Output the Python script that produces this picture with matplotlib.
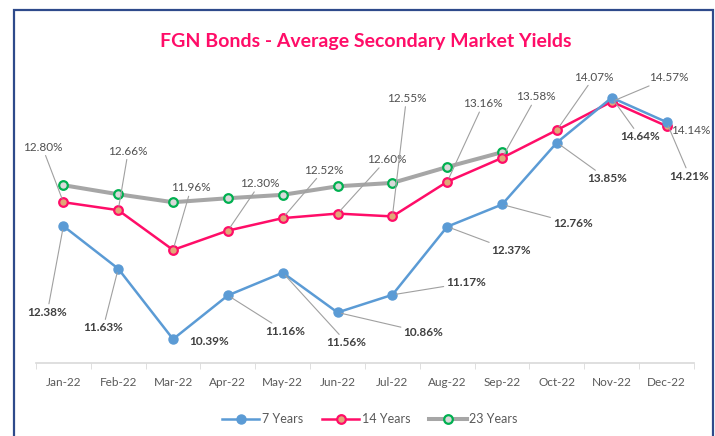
import matplotlib.pyplot as plt
from matplotlib.patches import Rectangle

plt.rcParams['font.family'] = ['Lato', 'DejaVu Sans']

months = ['Jan-22', 'Feb-22', 'Mar-22', 'Apr-22', 'May-22', 'Jun-22',
          'Jul-22', 'Aug-22', 'Sep-22', 'Oct-22', 'Nov-22', 'Dec-22']
yield_7y = [12.38, 11.63, 10.39, 11.16, 11.56, 10.86, 11.17, 12.37, 12.76, 13.85, 14.64, 14.21]
yield_14y = [12.80, 12.66, 11.96, 12.30, 12.52, 12.60, 12.55, 13.16, 13.58, 14.07, 14.57, 14.14]
yield_23y = [13.10, 12.94, 12.80, 12.87, 12.93, 13.08, 13.14, 13.42, 13.68]

# label offsets in pixels (dx right, dy down) -- just layout
off_14 = [(-21, -55), (10, -59), (18, -62), (32, -47), (41, -48), (49, -54),
          (14, -118), (36, -78), (34, -61), (37, -53), (57, -24), (24, 4)]
off_7 = [(-16, 86), (-15, 59), (36, 2), (57, 36), (64, 70), (86, 20),
         (74, -12), (64, 24), (71, 19), (50, 36), (28, 39), (23, 54)]

blue = '#5B9BD5'
red = '#FF0D68'
gray = '#A6A6A6'
green = '#00B050'

fig = plt.figure(figsize=(7.15, 4.36), dpi=100)
ax = fig.add_axes([0.0503, 0.1674, 0.9203, 0.6555])

x7 = range(len(yield_7y))
ax.plot(x7, yield_7y, color=blue, lw=1.8, marker='o', ms=6.5,
        mfc=blue, mec=blue, label='7 Years', zorder=4)
ax.plot(range(len(yield_14y)), yield_14y, color=red, lw=1.8, marker='o', ms=6.2,
        mfc='#E0A878', mec=red, mew=1.6, label='14 Years', zorder=3)
ax.plot(range(len(yield_23y)), yield_23y, color=gray, lw=2.9, marker='o', ms=6.2,
        mfc='#D9D9D9', mec=green, mew=1.6, label='23 Years', zorder=2)

lead = dict(arrowstyle='-', color='#A0A0A0', lw=0.8, shrinkA=0, shrinkB=3)

for i, v in enumerate(yield_14y):
    dx, dy = off_14[i]
    ax.annotate(f'{v:.2f}%', xy=(i, v), xytext=(dx, -dy), textcoords='offset pixels',
                ha='center', va='center', fontsize=8.5, color='#505050',
                arrowprops=lead if abs(dy) > 15 else None, zorder=5)

for i, v in enumerate(yield_7y):
    dx, dy = off_7[i]
    ax.annotate(f'{v:.2f}%', xy=(i, v), xytext=(dx, -dy), textcoords='offset pixels',
                ha='center', va='center', fontsize=8.5, color='#404040', fontweight='bold',
                arrowprops=lead if abs(dx) + abs(dy) > 40 else None, zorder=5)

ax.set_xlim(-0.5, 11.5)
ax.set_ylim(9.97, 15.0)
ax.set_xticks(range(12))
ax.set_xticklabels(months, fontsize=8.5, color='#595959')
ax.set_xticks([i - 0.5 for i in range(13)], minor=True)
ax.tick_params(axis='x', which='major', length=0, pad=10)
ax.tick_params(axis='x', which='minor', length=4, color='#D9D9D9', direction='out')
ax.set_yticks([])
for s in ['top', 'left', 'right']:
    ax.spines[s].set_visible(False)
ax.spines['bottom'].set_color('#D9D9D9')
ax.spines['bottom'].set_linewidth(1.2)

fig.text(0.511, 0.904, 'FGN Bonds - Average Secondary Market Yields',
         ha='center', va='center', fontsize=14, fontweight='bold', color='#FF0D68')

fig.legend(loc='center', bbox_to_anchor=(0.517, 0.039), ncol=3, frameon=False,
           fontsize=9, handlelength=3, handletextpad=0.2, columnspacing=1.5,
           labelcolor='#595959')

# chart frame
fig.patches.append(Rectangle((14 / 715, -0.05), (713 - 14) / 715, 1.05 - 10 / 436,
                             transform=fig.transFigure, fill=False,
                             edgecolor='#2E4A8B', lw=1.6))

fig.savefig('out.png', dpi=100)
